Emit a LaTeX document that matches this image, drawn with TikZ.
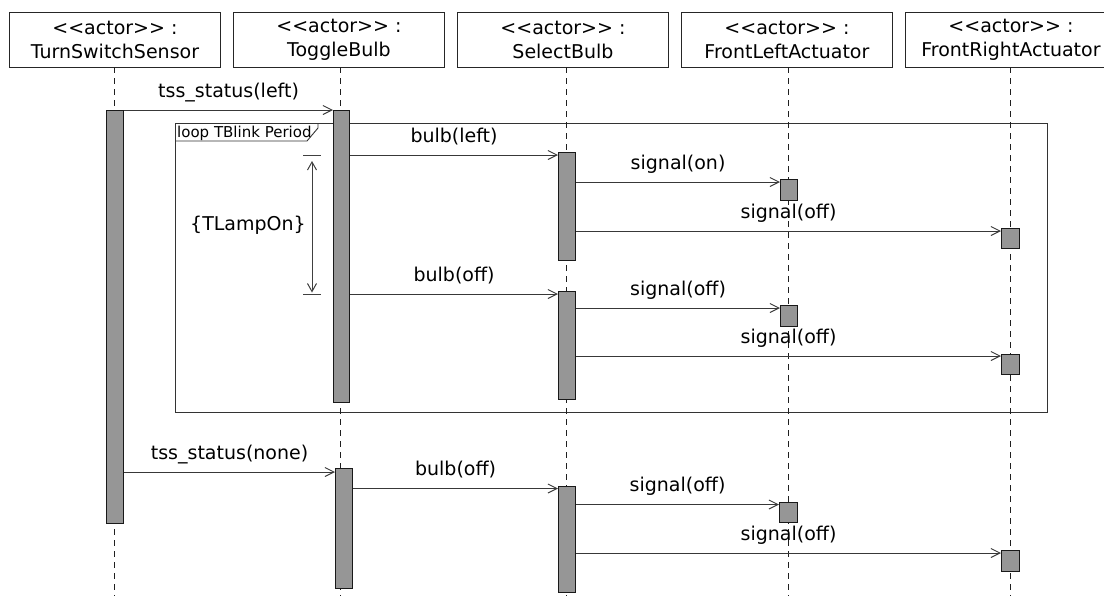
\documentclass[tikz,border=0pt]{standalone}
\usepackage{fontspec}
\setmainfont{DejaVu Sans}
\usetikzlibrary{arrows.meta,calc}
\begin{document}
\begin{tikzpicture}[x=1pt,y=-1pt,
  every node/.style={font=\fontsize{19}{24.5}\selectfont},
  hdr/.style={draw=black!85, line width=0.9pt, minimum width=211pt, minimum height=55pt, align=center, inner sep=0pt, anchor=north west},
  life/.style={draw=black!88, line width=1.1pt, dash pattern=on 6pt off 5pt},
  bar/.style={draw=black!90, fill=black!41, line width=1.1pt, minimum width=17pt, inner sep=0pt, anchor=north west},
  msg/.style={draw=black!78, line width=1pt, -{Straight Barb[length=9pt,width=9pt]}},
  lbl/.style={anchor=base, yshift=13pt, inner sep=0pt},
  frame/.style={draw=black!80, line width=1.2pt},
  dur/.style={draw=black!75, line width=1pt},
]
\useasboundingbox (0,0) rectangle (1104,595);
\coordinate (bot) at (0,596);

% loop frame
\node[frame, anchor=north west, minimum width=872pt, minimum height=289pt, inner sep=0pt] (loop) at (175,123) {};
\draw[frame, line width=0.9pt] ($(loop.north west)+(143,0)$) -- ++(0,5) -- ++(-11,13) -- ($(loop.north west)+(0,18)$);
\node[font=\fontsize{15}{18}\selectfont, anchor=base west, inner sep=0pt] (looplbl) at ($(loop.north west)+(2,14)$) {loop TBlink Period};

% headers
\node[hdr] (h1) at (9,12) {<\kern0pt<actor>\kern0pt> :\\TurnSwitchSensor};
\node[hdr] (h2) at (233,12) {<\kern0pt<actor>\kern0pt> :\\ToggleBulb};
\node[hdr] (h3) at (457,12) {<\kern0pt<actor>\kern0pt> :\\SelectBulb};
\node[hdr] (h4) at (681,12) {<\kern0pt<actor>\kern0pt> :\\FrontLeftActuator};
\node[hdr] (h5) at (905,12) {<\kern0pt<actor>\kern0pt> :\\FrontRightActuator};

% lifelines
\coordinate (l1) at (114.5,67);
\coordinate (l2) at (340.5,67);
\coordinate (l3) at (566.5,67);
\coordinate (l4) at (788.5,67);
\coordinate (l5) at (1010.5,67);
\foreach \l in {l1,l2,l3,l4,l5} \draw[life] (\l) -- (\l |- bot);

% activation bars
\node[bar, minimum height=413pt] (b1) at (106,110) {};
\node[bar, minimum height=292pt, minimum width=16pt] (b2) at (333,110) {};
\node[bar, minimum height=108pt] (b3a) at (558,152) {};
\node[bar, minimum height=21pt] (fla1) at (780,179) {};
\node[bar, minimum height=20pt, minimum width=18pt] (fra1) at (1001,228) {};
\node[bar, minimum height=108pt] (b3b) at (558,291) {};
\node[bar, minimum height=21pt] (fla2) at (780,305) {};
\node[bar, minimum height=20pt, minimum width=18pt] (fra2) at (1001,354) {};
\node[bar, minimum height=120pt] (b2b) at (335,468) {};
\node[bar, minimum height=106pt] (b3c) at (558,486) {};
\node[bar, minimum height=20pt, minimum width=18pt] (fla3) at (779,502) {};
\node[bar, minimum height=21pt, minimum width=18pt] (fra3) at (1001,550) {};

% message targets
\path (b2.north west) coordinate (t1);
\path (b3a.north west) ++(0,3) coordinate (t2);
\path (fla1.north west) ++(0,3) coordinate (t3);
\path (fra1.north west) ++(0,3) coordinate (t4);
\path (b3b.north west) ++(0,3) coordinate (t5);
\path (fla2.north west) ++(0,3) coordinate (t6);
\path (fra2.north west) ++(0,2) coordinate (t7);
\path (b2b.north west) ++(0,4) coordinate (t8);
\path (b3c.north west) ++(0,2.5) coordinate (t9);
\path (fla3.north west) ++(0,2.5) coordinate (t10);
\path (fra3.north west) ++(0,3) coordinate (t11);

\draw[msg] (b1.east |- t1) -- (t1) node[lbl, midway] {tss\_status(left)};
\draw[msg] (b2.east |- t2) -- (t2) node[lbl, midway] {bulb(left)};
\draw[msg] (b3a.east |- t3) -- (t3) node[lbl, midway] {signal(on)};
\draw[msg] (b3a.east |- t4) -- (t4) node[lbl, midway] {signal(off)};
\draw[msg] (b2.east |- t5) -- (t5) node[lbl, midway] {bulb(off)};
\draw[msg] (b3b.east |- t6) -- (t6) node[lbl, midway] {signal(off)};
\draw[msg] (b3b.east |- t7) -- (t7) node[lbl, midway] {signal(off)};
\draw[msg] (b1.east |- t8) -- (t8) node[lbl, midway] {tss\_status(none)};
\draw[msg] (b2b.east |- t9) -- (t9) node[lbl, midway] {bulb(off)};
\draw[msg] (b3c.east |- t10) -- (t10) node[lbl, midway] {signal(off)};
\draw[msg] (b3c.east |- t11) -- (t11) node[lbl, midway] {signal(off)};

% duration constraint
\coordinate (dA) at (312,155);
\coordinate (dB) at (312,294);
\draw[dur] ([xshift=-9pt]dA) -- ([xshift=9pt]dA);
\draw[dur] ([xshift=-9pt]dB) -- ([xshift=9pt]dB);
\draw[dur, {Straight Barb[length=8pt,width=9pt]}-{Straight Barb[length=8pt,width=9pt]}] ([yshift=-6pt]dA) -- ([yshift=1.5pt]dB);
\node (tl) at (248,225) {\{TLampOn\}};
\end{tikzpicture}
\end{document}
